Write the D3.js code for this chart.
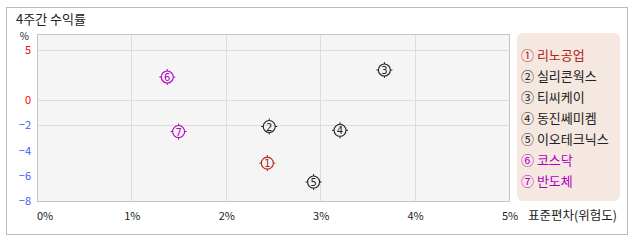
<!DOCTYPE html>
<head>
<style>
body { margin: 0; background: #fff; }
svg { font-family: "Noto Sans CJK KR", "DejaVu Sans", sans-serif; }
</style>
<script src="https://d3js.org/d3.v7.min.js"></script>
</head>
<body>
<svg id="chart" width="638" height="242"></svg>
<script>

// data
var names = ["리노공업", "실리콘웍스", "티씨케이", "동진쎄미켐", "이오테크닉스", "코스닥", "반도체"];
var marks = ["①", "②", "③", "④", "⑤", "⑥", "⑦"];
var risk = [2.44, 2.46, 3.68, 3.21, 2.93, 1.38, 1.50];     // 표준편차 %
var returns = [-5.0, -2.1, 3.0, -2.4, -6.5, 2.3, -2.5];    // 4주간 수익률 %
var colors = ["#b22222", "#222", "#222", "#222", "#222", "#b000c0", "#b000c0"];
var xTicks = [0, 1, 2, 3, 4, 5];
var yTicks = [5, 0, -2, -4, -6, -8];
var yGrid = [5, 0, -2];

var svg = d3.select("#chart");

// plot box (note: "top" is taken by window.top, so use other names)
var pLeft = 37, pRight = 509, pTop = 34, pBottom = 201;

var x = d3.scaleLinear().domain([0, 5]).range([pLeft, pRight]);
// the chart stretches the negative side more than the positive side
var y = d3.scaleLinear().domain([-8, 0, 6.6]).range([pBottom, 100, pTop]);

// outer frame
svg.append("rect")
    .attr("x", 6.5).attr("y", 7.5)
    .attr("width", 621).attr("height", 227)
    .attr("fill", "#fff")
    .attr("stroke", "#bbb");

svg.append("text")
    .attr("x", 16).attr("y", 24)
    .attr("font-size", 13)
    .attr("fill", "#222")
    .text("4주간 수익률");

// plot background
svg.append("rect")
    .attr("x", pLeft + 0.5).attr("y", pTop + 0.5)
    .attr("width", pRight - pLeft).attr("height", pBottom - pTop)
    .attr("fill", "#f5f5f5")
    .attr("stroke", "#c4c4c4");

// grid
svg.append("g").selectAll("line")
    .data(xTicks.slice(1, -1))
    .enter().append("line")
    .attr("x1", function(d) { return Math.round(x(d)) + 0.5; })
    .attr("x2", function(d) { return Math.round(x(d)) + 0.5; })
    .attr("y1", pTop + 1).attr("y2", pBottom)
    .attr("stroke", "#dcdcdc");

svg.append("g").selectAll("line")
    .data(yGrid)
    .enter().append("line")
    .attr("x1", pLeft + 1).attr("x2", pRight)
    .attr("y1", function(d) { return Math.round(y(d)) + 0.5; })
    .attr("y2", function(d) { return Math.round(y(d)) + 0.5; })
    .attr("stroke", "#dcdcdc");

// y tick labels
svg.append("g").selectAll("text")
    .data(yTicks)
    .enter().append("text")
    .attr("x", 31)
    .attr("y", function(d) { return y(d) + 4; })
    .attr("text-anchor", "end")
    .attr("font-size", 11)
    .attr("fill", function(d) { return d >= 0 ? "#f00" : "#4455ff"; })
    .text(function(d) { return d < 0 ? "\u2212" + Math.abs(d) : d; });

svg.append("text")
    .attr("x", 29).attr("y", 40)
    .attr("text-anchor", "end")
    .attr("font-size", 10)
    .attr("fill", "#222")
    .text("%");

// x tick labels
svg.append("g").selectAll("text")
    .data(xTicks)
    .enter().append("text")
    .attr("x", function(d) { return d === 0 ? x(d) : x(d) + 1; })
    .attr("y", 220)
    .attr("text-anchor", function(d) { return d === 0 ? "start" : "middle"; })
    .attr("font-size", 11)
    .attr("fill", "#222")
    .text(function(d) { return d + "%"; });

svg.append("text")
    .attr("x", 528).attr("y", 220)
    .attr("font-size", 12.5)
    .attr("fill", "#222")
    .text("표준편차(위험도)");

// points: circle with small nubs and the number inside
var pts = svg.append("g").selectAll("g")
    .data(d3.range(names.length))
    .enter().append("g")
    .attr("transform", function(i) { return "translate(" + x(risk[i]) + "," + y(returns[i]) + ")"; });

pts.append("circle")
    .attr("r", 6)
    .attr("fill", "none")
    .attr("stroke", function(i) { return colors[i]; })
    .attr("stroke-width", 1.1);

[[0, -6, 0, -8], [0, 6, 0, 8], [-6, 0, -8, 0], [6, 0, 8, 0]].forEach(function(t) {
    pts.append("line")
        .attr("x1", t[0]).attr("y1", t[1]).attr("x2", t[2]).attr("y2", t[3])
        .attr("stroke", function(i) { return colors[i]; });
});

pts.append("text")
    .attr("text-anchor", "middle")
    .attr("y", 4)
    .attr("font-size", 10)
    .attr("font-family", "DejaVu Sans, sans-serif")
    .attr("fill", function(i) { return colors[i]; })
    .text(function(i) { return i + 1; });

// legend
svg.append("rect")
    .attr("x", 517).attr("y", 33)
    .attr("width", 103).attr("height", 168)
    .attr("rx", 6)
    .attr("fill", "#f5e8e1");

svg.append("g").selectAll("text")
    .data(d3.range(names.length))
    .enter().append("text")
    .attr("x", 521)
    .attr("y", function(i) { return 60 + i * 21; })
    .attr("font-size", 13)
    .attr("fill", function(i) { return colors[i]; })
    .text(function(i) { return marks[i] + " " + names[i]; });

</script>
</body>
</html>
